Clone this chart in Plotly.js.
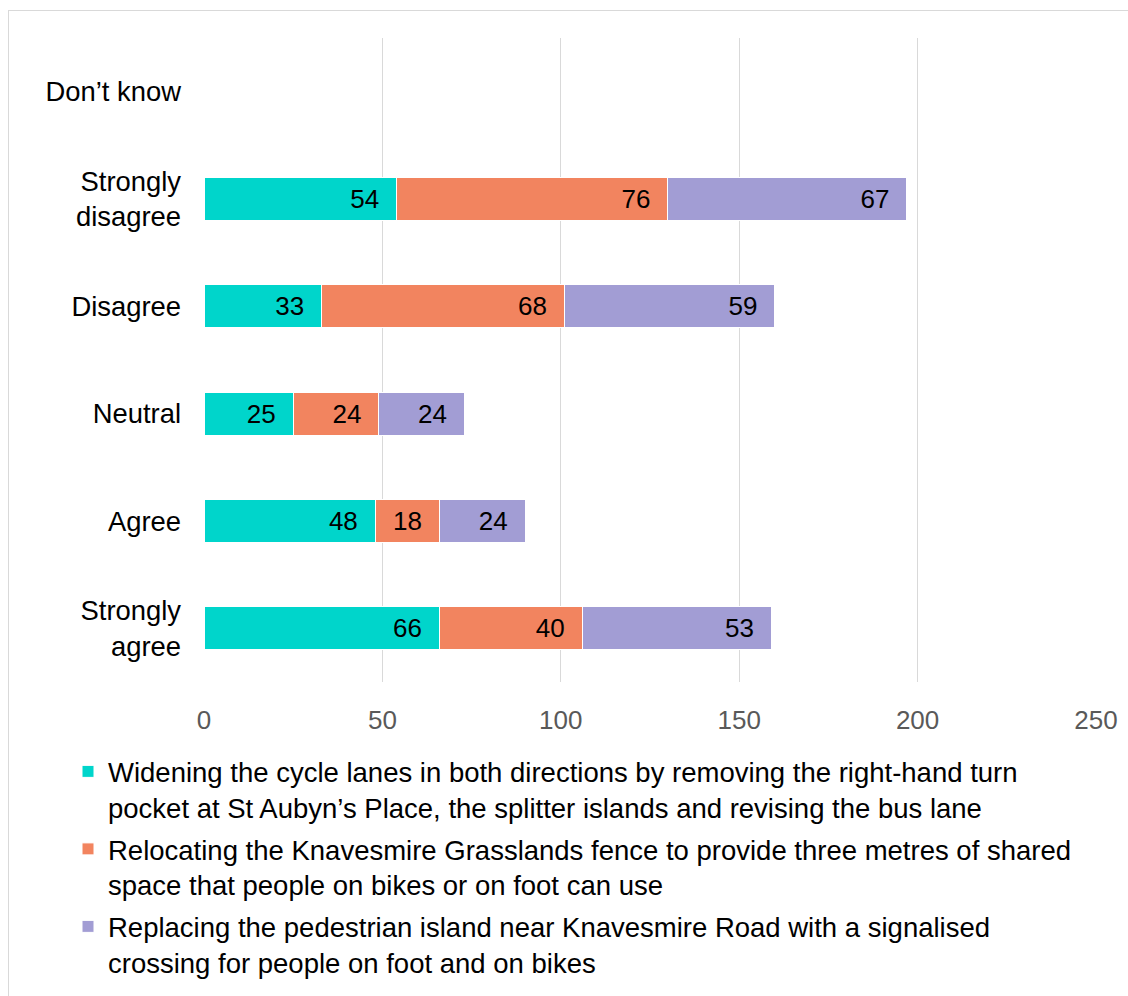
<!DOCTYPE html>
<html>
<head>
<meta charset="utf-8">
<script src="https://cdn.plot.ly/plotly-3.0.1.min.js"></script>
<style>
  html, body { margin: 0; padding: 0; background: #fff; overflow: hidden; }
  #frame { position: absolute; left: 8px; top: 10px; width: 1200px; height: 1100px; border: 1px solid #D9D9D9; box-sizing: border-box; }
  #chart { position: absolute; left: 0; top: 0; width: 1128px; height: 996px; }
</style>
</head>
<body>
<div id="frame"></div>
<div id="chart"></div>
<script>
const categories = ['Strongly agree', 'Agree', 'Neutral', 'Disagree', 'Strongly disagree', 'Don’t know'];
const categoryLabels = ['Strongly<br>agree', 'Agree', 'Neutral', 'Disagree', 'Strongly<br>disagree', 'Don’t know'];
const widening = [66, 48, 25, 33, 54, null];
const relocating = [40, 18, 24, 68, 76, null];
const replacing = [53, 24, 24, 59, 67, null];
const seriesNames = [
  'Widening the cycle lanes in both directions by removing the right-hand turn<br>pocket at St Aubyn’s Place, the splitter islands and revising the bus lane',
  'Relocating the Knavesmire Grasslands fence to provide three metres of shared<br>space that people on bikes or on foot can use',
  'Replacing the pedestrian island near Knavesmire Road with a signalised<br>crossing for people on foot and on bikes'
];
const xTicks = [0, 50, 100, 150, 200, 250];

const FONT = 'Liberation Sans, Arial, sans-serif';
const colors = ['#00D5CB', '#F2845F', '#A29DD4'];
const seriesValues = [widening, relocating, replacing];

const traces = seriesValues.map((vals, i) => ({
  type: 'bar',
  orientation: 'h',
  y: categories,
  x: vals,
  name: seriesNames[i],
  legendgroup: 'g' + i,
  marker: { color: colors[i], line: { color: '#FFFFFF', width: 1 } },
  text: vals.map(v => v == null ? '' : String(v) + '\u00a0\u00a0'),
  textposition: 'inside',
  insidetextanchor: 'end',
  textangle: 0,
  textfont: { family: FONT, size: 26, color: '#000000' },
  constraintext: 'none',
  hoverinfo: 'x+y+name'
}));

const layout = {
  width: 1128,
  height: 996,
  barmode: 'stack',
  bargap: 0.6,
  paper_bgcolor: 'rgba(0,0,0,0)',
  plot_bgcolor: 'rgba(0,0,0,0)',
  margin: { l: 204, r: 32, t: 38, b: 314, pad: 0, autoexpand: false },
  font: { family: FONT, size: 26, color: '#000000' },
  xaxis: {
    range: [0, 250],
    tickvals: xTicks,
    ticktext: xTicks.map(String),
    showgrid: true,
    gridcolor: '#D9D9D9',
    gridwidth: 1,
    zeroline: false,
    showline: false,
    ticks: '',
    ticklabelstandoff: 20,
    tickfont: { family: FONT, size: 26, color: '#595959' },
    fixedrange: true
  },
  yaxis: {
    type: 'category',
    categoryorder: 'array',
    categoryarray: categories,
    tickvals: categories,
    ticktext: categoryLabels,
    showgrid: false,
    zeroline: false,
    showline: false,
    ticks: '',
    ticklabelstandoff: 22,
    tickfont: { family: FONT, size: 27.4, color: '#000000' },
    fixedrange: true
  },
  showlegend: true,
  legend: {
    orientation: 'v',
    traceorder: 'grouped',
    tracegroupgap: 3,
    x: (68 - 204) / 892,
    xanchor: 'left',
    y: (682 - 747) / 644,
    yanchor: 'top',
    valign: 'top',
    itemwidth: 30,
    font: { family: FONT, size: 27.5, color: '#000000' },
    bgcolor: 'rgba(0,0,0,0)',
    borderwidth: 0
  }
};

Plotly.newPlot('chart', traces, layout, { displayModeBar: false });
</script>
</body>
</html>
